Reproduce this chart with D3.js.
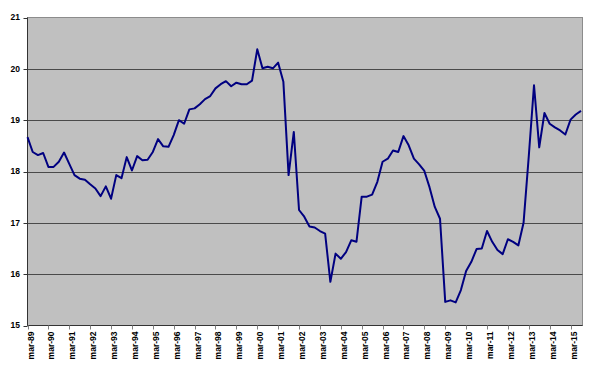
<!DOCTYPE html>
<html>
<head>
<meta charset="utf-8">
<script src="https://cdn.jsdelivr.net/npm/d3@7"></script>
<style>
  body { margin: 0; background: #fff; }
  text { font-family: Arial, "Liberation Sans", sans-serif; font-weight: bold; font-size: 8.5px; fill: #000; }
</style>
</head>
<body>
<svg id="chart" width="600" height="374"></svg>
<script>
// quarterly values, mar-89 .. sep-15
var rate = [
    18.67, 18.38, 18.32, 18.36,   // 89
    18.09, 18.09, 18.19, 18.37,   // 90
    18.15, 17.93, 17.86, 17.84,   // 91
    17.75, 17.67, 17.52, 17.71,   // 92
    17.47, 17.93, 17.87, 18.28,   // 93
    18.02, 18.30, 18.22, 18.23,   // 94
    18.38, 18.63, 18.49, 18.48,   // 95
    18.71, 19.00, 18.93, 19.21,   // 96
    19.23, 19.31, 19.41, 19.47,   // 97
    19.62, 19.70, 19.76, 19.66,   // 98
    19.73, 19.70, 19.70, 19.77,   // 99
    20.38, 20.01, 20.04, 20.01,   // 00
    20.12, 19.75, 17.93, 18.77,   // 01
    17.25, 17.12, 16.93, 16.91,   // 02
    16.84, 16.79, 15.85, 16.40,   // 03
    16.30, 16.43, 16.66, 16.63,   // 04
    17.51, 17.51, 17.55, 17.80,   // 05
    18.19, 18.25, 18.41, 18.38,   // 06
    18.69, 18.51, 18.25, 18.14,   // 07
    18.01, 17.69, 17.31, 17.08,   // 08
    15.46, 15.49, 15.45, 15.69,   // 09
    16.06, 16.24, 16.49, 16.50,   // 10
    16.84, 16.63, 16.47, 16.39,   // 11
    16.68, 16.63, 16.56, 17.00,   // 12
    18.30, 19.68, 18.47, 19.14,   // 13
    18.93, 18.86, 18.80, 18.72,   // 14
    19.01, 19.11, 19.18           // 15
];

// one label every 4 quarters
var tickLabels = ["mar-89", "mar-90", "mar-91", "mar-92", "mar-93", "mar-94",
    "mar-95", "mar-96", "mar-97", "mar-98", "mar-99", "mar-00", "mar-01",
    "mar-02", "mar-03", "mar-04", "mar-05", "mar-06", "mar-07", "mar-08",
    "mar-09", "mar-10", "mar-11", "mar-12", "mar-13", "mar-14", "mar-15"];

var yTicks = [15, 16, 17, 18, 19, 20, 21];

var svg = d3.select("#chart");
var pLeft = 27.5, pTop = 17.5, pRight = 582.5, pBottom = 325.5;

var x = d3.scaleLinear().domain([0, rate.length - 1]).range([pLeft, 581]);
var y = d3.scaleLinear().domain([15, 21]).range([pBottom, pTop]);

svg.append("rect")
    .attr("x", pLeft).attr("y", pTop)
    .attr("width", pRight - pLeft).attr("height", pBottom - pTop)
    .attr("fill", "#c0c0c0")
    .attr("stroke", "#8c8c8c")
    .attr("stroke-width", 1);

// gridlines
svg.selectAll(".grid")
    .data(yTicks.slice(1, -1))
    .enter().append("line")
    .attr("class", "grid")
    .attr("x1", pLeft).attr("x2", pRight)
    .attr("y1", function(d) { return Math.round(y(d)) + 0.5; })
    .attr("y2", function(d) { return Math.round(y(d)) + 0.5; })
    .attr("stroke", "#4a4a4a")
    .attr("stroke-width", 1);

// y axis
svg.append("line")
    .attr("x1", pLeft).attr("x2", pLeft)
    .attr("y1", pTop).attr("y2", pBottom)
    .attr("stroke", "#333");
svg.selectAll(".ytick")
    .data(yTicks)
    .enter().append("line")
    .attr("x1", pLeft - 4).attr("x2", pLeft)
    .attr("y1", function(d) { return Math.round(y(d)) + 0.5; })
    .attr("y2", function(d) { return Math.round(y(d)) + 0.5; })
    .attr("stroke", "#333");
svg.selectAll(".ylab")
    .data(yTicks)
    .enter().append("text")
    .attr("x", 20)
    .attr("y", function(d) { return y(d); })
    .attr("dy", "0.35em")
    .attr("text-anchor", "end")
    .text(function(d) { return d; });

// x axis
svg.append("line")
    .attr("x1", pLeft).attr("x2", pRight)
    .attr("y1", pBottom).attr("y2", pBottom)
    .attr("stroke", "#333");
var xt = svg.selectAll(".xtick")
    .data(tickLabels)
    .enter().append("g")
    .attr("transform", function(d, i) {
        return "translate(" + (Math.round(x(i * 4)) + 0.5) + ",0)"; });
xt.append("line")
    .attr("y1", pBottom).attr("y2", pBottom + 4)
    .attr("stroke", "#808080");
xt.append("text")
    .attr("transform", "translate(5," + (pBottom + 6) + ") rotate(-90)")
    .attr("text-anchor", "end")
    .text(function(d) { return d; });

// line
var line = d3.line()
    .x(function(d, i) { return x(i); })
    .y(function(d) { return y(d); });

svg.append("path")
    .datum(rate)
    .attr("fill", "none")
    .attr("stroke", "#000080")
    .attr("stroke-width", 2)
    .attr("stroke-linejoin", "round")
    .attr("d", line);
</script>
</body>
</html>
